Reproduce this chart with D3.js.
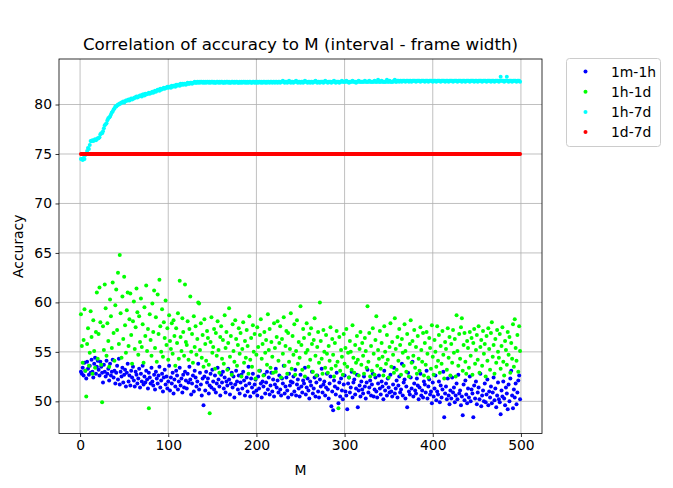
<!DOCTYPE html>
<html>
<head>
<meta charset="utf-8">
<script src="https://cdn.jsdelivr.net/npm/d3@7"></script>
<style>
body { margin: 0; background: #fff; }
text { font-family: 'DejaVu Sans', sans-serif; fill: #000; }
</style>
</head>
<body>
<div id="chart"></div>
<script>
var seriesNames = ['1m-1h', '1h-1d', '1h-7d', '1d-7d'];
var seriesColors = ['#0000ff', '#00ff00', '#00ffff', '#ff0000'];
var xTicks = [0, 100, 200, 300, 400, 500];
var yTicks = [50, 55, 60, 65, 70, 75, 80];
var mValues = d3.range(1, 500);

var acc1m1h = [
  53.0,52.8,53.4,52.6,53.9,53.1,52.3,54.0,53.3,52.7,53.6,52.9,54.2,53.0,52.4,53.8,54.4,52.8,53.5,54.1,
  53.2,52.6,54.0,53.5,52.9,51.9,53.7,53.0,52.5,54.1,52.8,53.3,52.1,53.8,52.6,53.0,54.2,52.4,53.1,51.8,
  52.9,53.6,52.2,54.3,51.7,53.0,52.5,53.4,51.9,52.7,53.2,51.5,52.9,53.8,52.0,52.6,51.6,53.1,52.4,53.5,
  52.1,51.5,53.0,52.7,51.8,52.3,53.3,51.4,52.8,52.0,53.6,51.7,52.5,51.9,53.1,52.2,51.3,52.9,52.4,51.8,
  53.4,52.0,51.6,52.7,51.2,53.0,52.3,51.8,52.6,53.5,51.4,52.1,52.8,51.0,52.4,53.2,51.7,52.5,51.3,52.0,
  53.6,51.1,52.4,51.8,52.9,50.8,52.2,51.5,53.1,52.6,51.2,52.0,53.4,51.6,52.3,50.9,52.7,51.4,53.0,52.1,
  51.3,52.8,51.9,53.5,52.2,50.7,51.8,52.6,51.0,53.1,52.4,51.5,52.0,53.8,51.2,52.9,51.7,50.6,52.3,49.6,
  52.5,51.1,53.0,51.9,52.3,50.8,51.6,52.8,51.4,53.2,52.0,51.2,52.6,50.9,51.8,53.4,52.2,51.5,50.6,52.7,
  51.9,53.0,51.3,52.4,50.9,52.0,51.6,53.3,52.2,50.7,51.8,52.9,51.4,52.5,50.4,51.7,53.1,52.0,51.2,52.6,
  50.8,51.9,52.7,51.3,53.0,52.1,50.6,51.6,52.4,51.0,53.5,51.8,50.5,52.3,51.4,52.8,50.9,51.7,52.2,51.1,
  50.6,52.5,51.3,53.1,51.8,50.4,52.0,51.5,52.7,50.8,51.9,53.0,51.2,52.4,50.7,51.6,52.9,51.0,52.2,50.5,
  51.7,53.3,51.4,52.1,50.9,52.6,51.2,50.6,52.3,51.8,53.6,50.8,51.5,52.4,51.1,50.4,52.8,51.6,52.0,50.7,
  51.9,52.5,51.0,53.2,50.6,51.7,52.2,51.3,50.5,52.7,51.5,50.9,52.1,51.8,53.4,50.7,51.4,52.3,51.1,50.3,
  52.0,51.6,53.0,50.8,51.3,52.4,50.5,51.9,52.6,51.0,50.4,52.2,51.5,53.3,50.9,51.7,52.0,50.6,51.4,52.8,
  51.2,50.3,51.8,52.5,49.5,51.0,49.1,52.1,51.5,50.7,52.9,51.3,49.8,51.9,50.5,52.3,51.1,50.2,51.7,52.6,
  51.0,50.6,49.2,51.8,52.4,50.9,51.4,53.0,50.4,51.9,52.2,50.7,51.3,52.7,49.4,51.1,51.6,50.5,52.0,51.2,
  50.8,52.5,51.5,50.3,51.9,53.2,50.9,51.4,52.1,50.6,51.7,52.8,50.5,51.2,52.4,51.0,50.4,51.8,52.6,51.3,
  50.7,52.0,51.5,50.2,53.1,51.1,51.8,50.6,52.3,51.4,50.9,52.7,51.0,50.5,51.7,53.4,50.8,51.3,52.1,50.4,
  51.6,52.5,50.9,51.2,53.8,50.6,51.9,52.2,50.3,51.5,49.4,52.9,51.0,50.7,52.4,51.3,54.0,50.5,51.8,51.1,
  50.8,52.3,51.6,50.2,51.4,52.8,50.6,51.1,50.4,52.0,51.7,50.9,53.1,50.3,51.5,52.2,50.7,51.0,49.8,51.9,
  50.5,51.3,52.6,50.1,51.0,50.7,52.0,49.9,51.6,50.4,51.2,53.0,48.4,50.8,51.5,50.2,52.3,50.6,49.7,51.1,
  50.3,52.4,50.9,51.4,49.9,50.6,51.8,50.2,52.7,50.8,51.1,49.6,50.5,48.6,51.7,50.1,52.1,50.7,49.8,51.3,
  50.4,52.5,50.0,51.2,50.8,48.4,51.6,50.3,52.0,49.7,50.9,51.4,50.2,52.8,49.5,50.6,51.1,50.0,51.8,49.9,
  50.7,52.2,49.6,51.0,50.4,51.5,49.8,50.9,52.4,50.1,51.3,49.4,50.6,51.9,50.2,49.9,48.7,51.1,50.5,52.0,
  50.3,49.6,51.4,50.8,49.2,51.7,50.0,52.3,53.1,50.6,49.3,51.2,50.4,51.8,49.7,50.9,52.1,52.6,50.2
];

var acc1h1d = [
  58.8,55.6,53.9,56.2,59.3,53.1,50.5,55.8,57.4,53.6,54.9,59.1,56.5,52.8,58.2,55.1,53.4,57.0,61.0,54.3,
  56.8,61.5,58.0,53.7,49.9,57.6,55.2,61.8,59.4,54.6,57.9,56.1,53.5,60.3,58.6,55.4,62.0,56.9,54.1,59.7,
  61.3,57.2,63.0,55.8,64.8,58.9,54.4,60.6,56.3,62.6,57.7,54.9,59.2,61.0,55.6,58.3,60.9,56.7,53.8,58.1,
  60.1,55.3,57.5,61.4,59.0,54.7,58.6,56.0,60.4,55.5,57.8,53.9,59.5,56.6,61.7,55.1,57.3,49.3,58.8,56.2,
  54.6,59.9,57.0,61.2,55.4,58.5,54.0,60.8,56.8,62.3,57.6,55.0,59.3,54.5,58.0,56.4,60.2,55.7,57.4,54.2,
  58.7,56.1,55.3,57.9,54.8,58.2,56.6,53.6,57.4,55.9,58.9,54.3,62.2,56.5,55.1,58.4,57.0,54.6,61.8,56.0,
  55.7,58.1,54.2,57.3,60.6,55.0,56.8,53.9,58.6,55.5,57.6,54.7,56.3,60.0,59.9,55.2,57.9,54.4,56.7,53.5,
  58.3,55.8,54.1,57.1,56.4,53.7,48.8,56.0,58.5,54.9,55.5,57.3,53.3,56.9,54.6,58.1,55.2,52.9,56.5,57.6,
  54.3,56.2,53.8,58.7,55.4,57.0,53.2,55.9,59.4,54.5,56.6,52.7,57.8,55.1,54.0,58.2,56.3,53.6,55.7,57.4,
  54.8,56.9,52.5,55.3,58.0,53.9,56.1,54.4,57.2,55.6,52.8,58.6,54.2,56.4,53.5,57.7,55.0,56.8,52.3,54.7,
  57.5,55.5,53.1,56.7,58.3,54.3,55.8,52.6,57.0,54.9,56.2,53.7,58.8,55.2,57.3,53.4,56.0,54.5,52.9,57.9,
  55.4,53.0,56.5,58.1,54.1,55.9,57.6,52.4,56.3,54.8,58.5,53.6,55.6,57.1,52.8,56.9,54.0,55.3,58.9,53.3,
  56.6,54.7,57.8,52.7,55.1,58.2,53.8,56.0,54.4,59.6,55.7,53.2,57.3,56.4,52.5,54.9,57.9,55.2,53.5,56.8,
  54.2,57.4,55.8,53.0,56.2,58.4,54.6,52.6,55.5,57.0,53.9,60.0,56.1,54.3,52.8,57.2,55.0,53.4,56.7,54.8,
  52.9,55.6,54.1,57.5,53.3,56.3,54.7,52.5,55.9,53.6,57.1,54.0,49.3,56.5,53.1,55.2,54.5,52.7,56.8,53.8,
  55.4,57.3,53.5,54.9,52.4,56.1,55.0,53.2,57.7,54.4,52.9,55.7,53.9,56.6,54.2,52.6,55.3,57.0,53.7,55.9,
  54.6,52.8,56.4,55.1,53.4,59.6,54.0,56.9,52.5,55.6,53.1,57.4,54.8,52.7,56.2,58.6,53.6,55.2,54.3,57.1,
  53.3,55.9,54.5,52.6,57.6,55.0,53.8,56.7,54.2,52.4,55.5,57.9,53.5,56.0,54.7,52.9,58.4,55.3,53.2,56.5,
  54.1,57.3,55.7,52.7,56.3,54.9,53.6,57.8,55.1,53.0,56.8,54.4,52.5,55.8,58.2,53.9,56.1,54.6,57.2,53.4,
  55.5,52.8,56.6,54.3,53.1,57.5,55.2,54.0,56.9,52.6,55.9,53.7,57.0,54.8,52.4,56.4,55.4,53.3,57.7,54.5,
  52.7,56.2,55.0,53.5,57.6,54.1,56.7,52.9,55.6,53.8,57.1,54.7,52.3,56.0,55.3,53.2,57.4,54.4,56.5,52.6,
  55.8,53.9,57.2,54.9,56.3,52.5,58.7,55.1,53.6,56.8,54.3,57.5,58.4,53.1,55.7,56.9,54.0,52.8,56.1,55.4,
  53.4,57.0,54.6,56.4,52.7,55.9,57.3,53.8,55.2,56.7,54.2,57.6,52.9,55.5,56.2,53.6,57.1,54.8,55.8,52.5,
  56.6,54.1,57.4,55.3,53.2,56.9,58.0,54.5,55.7,52.8,56.3,53.9,57.2,55.0,54.4,56.8,53.3,55.6,57.5,54.0,
  52.6,56.1,55.2,53.7,57.0,54.7,56.5,52.9,55.9,54.3,57.8,53.5,58.3,55.4,54.1,56.7,53.0,57.6,55.1
];

var acc1h7d = [
  74.5,74.5,74.4,74.6,74.5,74.9,75.0,75.3,75.6,75.5,75.9,76.3,76.3,76.4,76.3,76.4,76.5,76.4,76.5,76.6,
  76.6,76.7,77.0,77.1,77.1,77.3,77.6,77.9,78.0,78.1,78.4,78.6,78.7,78.8,79.0,79.2,79.3,79.5,79.6,79.8,
  79.8,79.9,80.0,80.0,80.1,80.1,80.2,80.2,80.3,80.2,80.3,80.4,80.4,80.4,80.5,80.4,80.5,80.6,80.5,80.6,
  80.6,80.7,80.7,80.8,80.7,80.8,80.8,80.9,80.9,80.8,81.0,81.0,80.9,81.1,81.0,81.1,81.1,81.2,81.1,81.2,
  81.2,81.3,81.2,81.3,81.4,81.3,81.4,81.5,81.5,81.4,81.6,81.5,81.6,81.6,81.7,81.6,81.7,81.7,81.8,81.7,
  81.8,81.8,81.7,81.9,81.8,81.9,81.9,81.8,82.0,81.9,82.0,82.0,81.9,82.1,82.0,82.1,82.0,82.1,82.1,82.0,
  82.1,82.2,82.1,82.1,82.2,82.2,82.1,82.2,82.2,82.3,82.2,82.2,82.3,82.2,82.3,82.2,82.3,82.3,82.2,82.3,
  82.2,82.3,82.2,82.3,82.3,82.2,82.3,82.2,82.3,82.3,82.2,82.3,82.2,82.2,82.3,82.3,82.2,82.3,82.2,82.3,
  82.3,82.2,82.2,82.3,82.2,82.3,82.3,82.2,82.3,82.2,82.2,82.3,82.3,82.2,82.3,82.2,82.3,82.3,82.2,82.2,
  82.3,82.2,82.3,82.2,82.3,82.3,82.2,82.3,82.2,82.3,82.2,82.3,82.3,82.2,82.2,82.3,82.3,82.2,82.3,82.2,
  82.3,82.2,82.3,82.3,82.2,82.3,82.2,82.3,82.3,82.2,82.3,82.2,82.3,82.3,82.2,82.3,82.3,82.2,82.3,82.3,
  82.2,82.3,82.3,82.2,82.3,82.3,82.2,82.3,82.3,82.4,82.3,82.2,82.3,82.3,82.2,82.3,82.4,82.3,82.2,82.3,
  82.3,82.2,82.3,82.3,82.4,82.3,82.2,82.3,82.3,82.2,82.3,82.3,82.2,82.3,82.4,82.3,82.3,82.2,82.3,82.3,
  82.2,82.3,82.3,82.2,82.3,82.3,82.4,82.3,82.2,82.3,82.3,82.2,82.3,82.3,82.3,82.2,82.3,82.4,82.3,82.3,
  82.2,82.3,82.3,82.3,82.2,82.3,82.3,82.4,82.3,82.2,82.3,82.3,82.3,82.2,82.3,82.3,82.4,82.3,82.3,82.3,
  82.3,82.4,82.3,82.3,82.2,82.3,82.3,82.3,82.4,82.3,82.3,82.3,82.2,82.3,82.3,82.4,82.3,82.3,82.3,82.3,
  82.3,82.3,82.4,82.3,82.3,82.3,82.3,82.4,82.3,82.3,82.3,82.3,82.3,82.4,82.3,82.3,82.3,82.5,82.3,82.3,
  82.3,82.4,82.3,82.3,82.3,82.3,82.3,82.5,82.3,82.3,82.4,82.3,82.3,82.3,82.3,82.4,82.5,82.3,82.3,82.4,
  82.4,82.3,82.4,82.4,82.3,82.4,82.4,82.4,82.3,82.4,82.4,82.4,82.3,82.4,82.4,82.3,82.4,82.4,82.4,82.4,
  82.3,82.4,82.4,82.4,82.4,82.3,82.4,82.4,82.4,82.4,82.3,82.4,82.4,82.4,82.3,82.4,82.4,82.4,82.4,82.3,
  82.4,82.4,82.4,82.3,82.4,82.4,82.4,82.4,82.3,82.4,82.4,82.4,82.4,82.3,82.4,82.4,82.4,82.3,82.4,82.4,
  82.4,82.4,82.3,82.4,82.4,82.4,82.4,82.3,82.4,82.4,82.4,82.4,82.3,82.4,82.4,82.4,82.3,82.4,82.4,82.4,
  82.4,82.3,82.4,82.4,82.4,82.4,82.3,82.4,82.4,82.4,82.3,82.4,82.4,82.4,82.4,82.3,82.4,82.4,82.4,82.4,
  82.3,82.4,82.4,82.4,82.4,82.3,82.4,82.4,82.4,82.3,82.4,82.4,82.4,82.4,82.3,82.4,82.8,82.4,82.4,82.4,
  82.3,82.4,82.4,82.8,82.4,82.3,82.4,82.4,82.4,82.3,82.4,82.4,82.4,82.4,82.3,82.4,82.4,82.4,82.3
];

var acc1d7d = [
  75,75,75,75,75,75,75,75,75,75,75,75,75,75,75,75,75,75,75,75,
  75,75,75,75,75,75,75,75,75,75,75,75,75,75,75,75,75,75,75,75,
  75,75,75,75,75,75,75,75,75,75,75,75,75,75,75,75,75,75,75,75,
  75,75,75,75,75,75,75,75,75,75,75,75,75,75,75,75,75,75,75,75,
  75,75,75,75,75,75,75,75,75,75,75,75,75,75,75,75,75,75,75,75,
  75,75,75,75,75,75,75,75,75,75,75,75,75,75,75,75,75,75,75,75,
  75,75,75,75,75,75,75,75,75,75,75,75,75,75,75,75,75,75,75,75,
  75,75,75,75,75,75,75,75,75,75,75,75,75,75,75,75,75,75,75,75,
  75,75,75,75,75,75,75,75,75,75,75,75,75,75,75,75,75,75,75,75,
  75,75,75,75,75,75,75,75,75,75,75,75,75,75,75,75,75,75,75,75,
  75,75,75,75,75,75,75,75,75,75,75,75,75,75,75,75,75,75,75,75,
  75,75,75,75,75,75,75,75,75,75,75,75,75,75,75,75,75,75,75,75,
  75,75,75,75,75,75,75,75,75,75,75,75,75,75,75,75,75,75,75,75,
  75,75,75,75,75,75,75,75,75,75,75,75,75,75,75,75,75,75,75,75,
  75,75,75,75,75,75,75,75,75,75,75,75,75,75,75,75,75,75,75,75,
  75,75,75,75,75,75,75,75,75,75,75,75,75,75,75,75,75,75,75,75,
  75,75,75,75,75,75,75,75,75,75,75,75,75,75,75,75,75,75,75,75,
  75,75,75,75,75,75,75,75,75,75,75,75,75,75,75,75,75,75,75,75,
  75,75,75,75,75,75,75,75,75,75,75,75,75,75,75,75,75,75,75,75,
  75,75,75,75,75,75,75,75,75,75,75,75,75,75,75,75,75,75,75,75,
  75,75,75,75,75,75,75,75,75,75,75,75,75,75,75,75,75,75,75,75,
  75,75,75,75,75,75,75,75,75,75,75,75,75,75,75,75,75,75,75,75,
  75,75,75,75,75,75,75,75,75,75,75,75,75,75,75,75,75,75,75,75,
  75,75,75,75,75,75,75,75,75,75,75,75,75,75,75,75,75,75,75,75,
  75,75,75,75,75,75,75,75,75,75,75,75,75,75,75,75,75,75,75
];

var seriesValues = [acc1m1h, acc1h1d, acc1h7d, acc1d7d];

function scatterChart(div) {
  var w = 673;
  var h = 488;
  var left = 59, right = 542, top = 59, bottom = 433.5;

  var svg = d3.select(div)
              .append('svg')
              .attr('width', w)
              .attr('height', h);

  var x = d3.scaleLinear().domain([-23.9, 523.9]).range([left, right]);
  var y = d3.scaleLinear().domain([46.75, 84.6]).range([bottom, top]);

  // grid under the points
  svg.append('g').selectAll('line')
    .data(xTicks)
    .enter()
    .append('line')
    .attr('x1', function(d) { return x(d); })
    .attr('x2', function(d) { return x(d); })
    .attr('y1', top)
    .attr('y2', bottom)
    .attr('stroke', '#b0b0b0')
    .attr('stroke-width', 0.8);
  svg.append('g').selectAll('line')
    .data(yTicks)
    .enter()
    .append('line')
    .attr('x1', left)
    .attr('x2', right)
    .attr('y1', function(d) { return y(d); })
    .attr('y2', function(d) { return y(d); })
    .attr('stroke', '#b0b0b0')
    .attr('stroke-width', 0.8);

  seriesValues.forEach(function(vals, i) {
    svg.append('g')
      .selectAll('circle')
      .data(vals)
      .enter()
      .append('circle')
      .attr('cx', function(d, j) { return x(mValues[j]); })
      .attr('cy', function(d) { return y(d); })
      .attr('r', 2)
      .attr('fill', seriesColors[i]);
  });

  svg.append('rect')
    .attr('x', left)
    .attr('y', top)
    .attr('width', right - left)
    .attr('height', bottom - top)
    .attr('fill', 'none')
    .attr('stroke', '#000')
    .attr('stroke-width', 0.8);

  var xAxis = svg.append('g')
    .attr('transform', 'translate(0,' + bottom + ')')
    .call(d3.axisBottom(x).tickValues(xTicks).tickSize(3.5).tickPadding(3.5));
  var yAxis = svg.append('g')
    .attr('transform', 'translate(' + left + ',0)')
    .call(d3.axisLeft(y).tickValues(yTicks).tickSize(3.5).tickPadding(3.5));
  [xAxis, yAxis].forEach(function(a) {
    a.select('.domain').remove();
    a.selectAll('line').attr('stroke', '#000').attr('stroke-width', 0.8);
    a.selectAll('text')
      .attr('font-family', 'DejaVu Sans, sans-serif')
      .attr('font-size', '13.9px')
      .attr('fill', '#000');
  });

  svg.append('text')
    .text('Correlation of accuracy to M (interval - frame width)')
    .attr('x', (left + right) / 2)
    .attr('y', 50)
    .attr('text-anchor', 'middle')
    .attr('font-size', '16.7px');

  svg.append('text')
    .text('M')
    .attr('x', (left + right) / 2)
    .attr('y', 475)
    .attr('text-anchor', 'middle')
    .attr('font-size', '13.9px');

  svg.append('text')
    .text('Accuracy')
    .attr('transform', 'translate(23,' + (top + bottom) / 2 + ') rotate(-90)')
    .attr('text-anchor', 'middle')
    .attr('font-size', '13.9px');

  var legend = svg.append('g');
  legend.append('rect')
    .attr('x', 566.5)
    .attr('y', 58.5)
    .attr('width', 94)
    .attr('height', 88)
    .attr('rx', 3)
    .attr('fill', '#fff')
    .attr('stroke', '#cccccc')
    .attr('stroke-width', 1);
  var rows = legend.selectAll('g.row')
    .data(seriesNames)
    .enter()
    .append('g')
    .attr('class', 'row')
    .attr('transform', function(d, i) { return 'translate(0,' + (71.5 + i * 20.2) + ')'; });
  rows.append('circle')
    .attr('cx', 585.5)
    .attr('cy', 0)
    .attr('r', 2)
    .attr('fill', function(d, i) { return seriesColors[i]; });
  rows.append('text')
    .text(function(d) { return d; })
    .attr('x', 611)
    .attr('y', 5)
    .attr('font-size', '13.9px');
}

scatterChart('#chart');
</script>
</body>
</html>
